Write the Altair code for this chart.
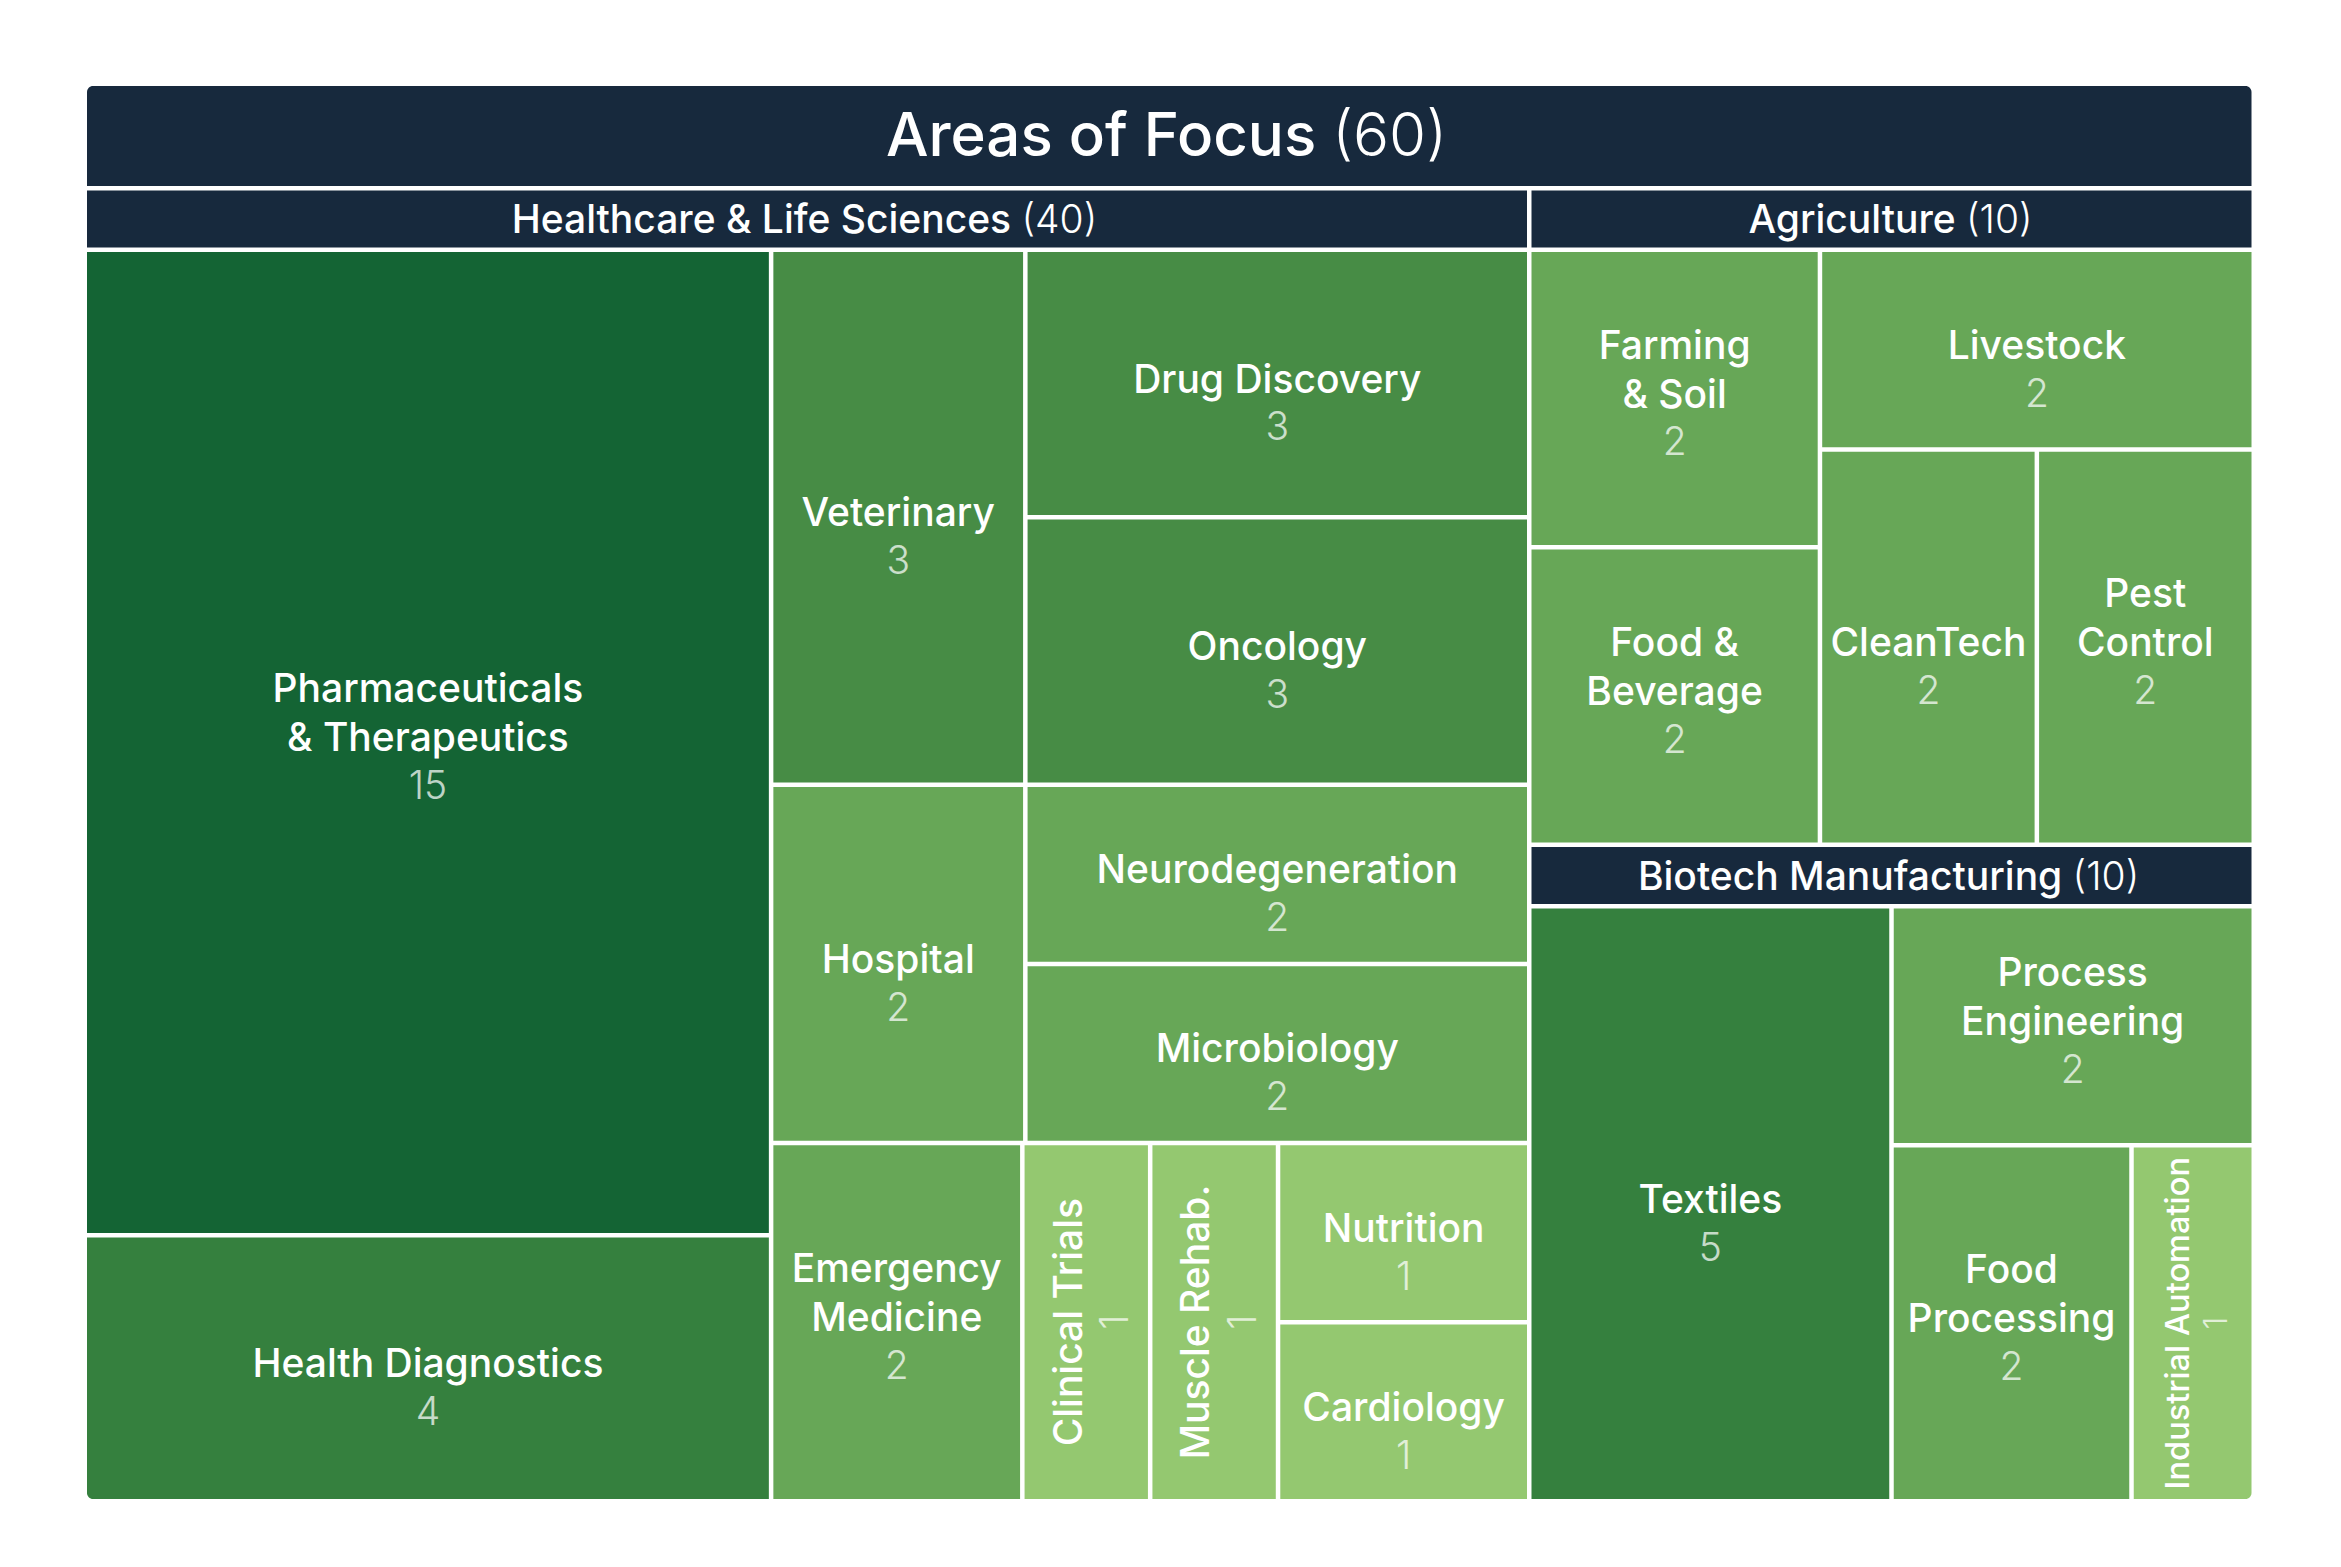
import altair as alt
import pandas as pd

# ---------------- data ----------------
TITLE = "Areas of Focus"
GROUPS = ["Healthcare & Life Sciences", "Agriculture", "Biotech Manufacturing"]

hc_labels = ["Pharmaceuticals\n& Therapeutics", "Health Diagnostics", "Veterinary",
             "Drug Discovery", "Oncology", "Hospital", "Neurodegeneration",
             "Microbiology", "Emergency\nMedicine", "Clinical Trials", "Muscle Rehab.",
             "Nutrition", "Cardiology"]
hc_values = [15, 4, 3, 3, 3, 2, 2, 2, 2, 1, 1, 1, 1]

ag_labels = ["Farming\n& Soil", "Food &\nBeverage", "Livestock", "CleanTech", "Pest\nControl"]
ag_values = [2, 2, 2, 2, 2]

bt_labels = ["Textiles", "Process\nEngineering", "Food\nProcessing", "Industrial Automation"]
bt_values = [5, 2, 2, 1]

# nesting of the tiles inside each group (h = side by side, v = stacked)
HC_TREE = ("h", [("v", [0, 1]),
                 ("v", [("h", [2, ("v", [3, 4])]),
                        ("h", [5, ("v", [6, 7])]),
                        ("h", [8, 9, 10, ("v", [11, 12])])])])
AG_TREE = ("h", [("v", [0, 1]), ("v", [2, ("h", [3, 4])])])
BT_TREE = ("h", [0, ("v", [1, ("h", [2, 3])])])

# ---------------- layout constants ----------------
W, H = 2320, 1540
FX0, FY0, FX1, FY1 = 79, 78, 2243.5, 1491
TITLE_H = 100
HDR_H = 57
GAP = 4.5
BASE = 39
LINE = 49
FONT = "Inter"
NAVY = "#17293d"

CW = {}
for ch, w in zip("ABCDEFGHIJKLMNOPQRSTUVWXYZ",
                 [.68, .64, .70, .72, .59, .57, .73, .74, .28, .5, .66, .54, .88, .74, .76, .64, .76, .64, .62, .62, .72, .68, .96, .66, .64, .6]):
    CW[ch] = w
for ch, w in zip("abcdefghijklmnopqrstuvwxyz",
                 [.54, .59, .54, .59, .56, .35, .59, .58, .24, .24, .52, .24, .87, .58, .57, .59, .59, .37, .5, .35, .58, .52, .77, .5, .52, .5]):
    CW[ch] = w
CW.update({" ": .26, "&": .68, "(": .33, ")": .33, ".": .27, "1": .42})


def est(s, fs, weight=500):
    w = sum(CW.get(c, 0.6) for c in s)
    return w * fs * (1.02 if weight >= 500 else 0.98)


def tval(t, vals):
    if isinstance(t, int):
        return vals[t]
    return sum(tval(k, vals) for k in t[1])


def place(t, vals, x0, y0, x1, y1, out):
    if isinstance(t, int):
        out[t] = (x0, y0, x1, y1)
        return
    d, kids = t
    tot = sum(tval(k, vals) for k in kids)
    span = (x1 - x0) if d == "h" else (y1 - y0)
    usable = span - GAP * (len(kids) - 1)
    pos = x0 if d == "h" else y0
    for k in kids:
        s = usable * tval(k, vals) / tot
        if d == "h":
            place(k, vals, pos, y0, pos + s, y1, out)
        else:
            place(k, vals, x0, pos, x1, pos + s, out)
        pos += s + GAP


rects = []
texts = []


def header(name, count, x0, y0, x1, y1, fs):
    cx, cy = (x0 + x1) / 2, (y0 + y1) / 2 + 2
    cnt = "(%d)" % count
    wn, ws, wc = est(name, fs), est(" ", fs), est(cnt, fs, 300)
    left = cx - (wn + ws + wc) / 2
    texts.append(dict(x=left + wn, y=cy, text=name, fs=fs, ang=0, kind="hname"))
    texts.append(dict(x=left + wn + ws, y=cy, text=cnt, fs=fs, ang=0, kind="hcount"))


def group(name, labels, vals, tree, x0, y0, x1, y1):
    rects.append(dict(x=x0, x2=x1, y=y0, y2=y0 + HDR_H, key="header", corner=""))
    header(name, sum(vals), x0, y0, x1, y0 + HDR_H, BASE)
    out = {}
    place(tree, vals, x0, y0 + HDR_H + GAP, x1, y1, out)
    for i, (a, b, c, d) in out.items():
        corner = ""
        if abs(d - FY1) < 1 and abs(a - FX0) < 1:
            corner = "bl"
        elif abs(d - FY1) < 1 and abs(c - FX1) < 1:
            corner = "br"
        rects.append(dict(x=a, x2=c, y=b, y2=d, key=str(vals[i]), corner=corner))
        lines = labels[i].split("\n")
        wmax = max(est(l, BASE) for l in lines)
        cw, ch = c - a, d - b
        cx, cy = (a + c) / 2, (b + d) / 2
        fs_h = min(BASE, BASE * (cw - 16) / wmax)
        if fs_h < 0.8 * BASE and ch > cw:
            fs = min(BASE, BASE * (ch - 24) / wmax)
            step = 1.22 * fs
            texts.append(dict(x=cx - 0.35 * step, y=cy, text=labels[i], fs=fs, ang=270, kind="name"))
            texts.append(dict(x=cx + 0.62 * step, y=cy, text=str(vals[i]), fs=fs, ang=270, kind="num"))
        else:
            fs = fs_h
            n = len(lines)
            last = cy - 3
            texts.append(dict(x=cx, y=last - (n - 1) * LINE, text=labels[i], fs=fs, ang=0, kind="name"))
            texts.append(dict(x=cx, y=last + 1.23 * fs, text=str(vals[i]), fs=fs, ang=0, kind="num"))


total = sum(hc_values) + sum(ag_values) + sum(bt_values)
# title bar
title_df = pd.DataFrame([dict(x=FX0, x2=FX1, y=FY0, y2=FY0 + TITLE_H)])
header(TITLE, total, FX0, FY0, FX1, FY0 + TITLE_H, 60)

cy0 = FY0 + TITLE_H + GAP
usable = (FX1 - FX0) - GAP
hc_w = usable * sum(hc_values) / total
group(GROUPS[0], hc_labels, hc_values, HC_TREE, FX0, cy0, FX0 + hc_w, FY1)
rx0 = FX0 + hc_w + GAP
right_tot = sum(ag_values) + sum(bt_values)
ag_h = ((FY1 - cy0) - GAP) * sum(ag_values) / right_tot
group(GROUPS[1], ag_labels, ag_values, AG_TREE, rx0, cy0, FX1, cy0 + ag_h)
group(GROUPS[2], bt_labels, bt_values, BT_TREE, rx0, cy0 + ag_h + GAP, FX1, FY1)

rect_df = pd.DataFrame(rects)
text_df = pd.DataFrame(texts)

# ---------------- chart ----------------
xs = alt.Scale(domain=[0, W], nice=False, zero=False)
ys = alt.Scale(domain=[0, H], nice=False, zero=False, reverse=True)
X = alt.X("x:Q", scale=xs, axis=None)
Y = alt.Y("y:Q", scale=ys, axis=None)

color = alt.Color("key:N", legend=None,
                  scale=alt.Scale(domain=["header", "15", "5", "4", "3", "2", "1"],
                                  range=[NAVY, "#146434", "#35803e", "#35803e", "#478c45", "#67a757", "#94c870"]))

def rect_layer(corner, **kw):
    return alt.Chart(rect_df).transform_filter(alt.datum.corner == corner).mark_rect(**kw).encode(
        x=X, x2="x2:Q", y=Y, y2="y2:Q", color=color)

title_rect = alt.Chart(title_df).mark_rect(color=NAVY, cornerRadiusTopLeft=6, cornerRadiusTopRight=6).encode(
    x=X, x2="x2:Q", y=Y, y2="y2:Q")

def text_layer(kind, **kw):
    return alt.Chart(text_df).transform_filter(alt.datum.kind == kind).mark_text(
        font=FONT, baseline="middle", lineBreak="\n", lineHeight=LINE, **kw).encode(
        x=X, y=Y, text="text:N",
        size=alt.Size("fs:Q", scale=None),
        angle=alt.Angle("ang:Q", scale=None))

chart = alt.layer(
    title_rect,
    rect_layer(""),
    rect_layer("bl", cornerRadiusBottomLeft=6),
    rect_layer("br", cornerRadiusBottomRight=6),
    text_layer("name", color="white", fontWeight=500, align="center"),
    text_layer("num", color="white", opacity=0.72, fontWeight=300, align="center"),
    text_layer("hname", color="white", fontWeight=500, align="right"),
    text_layer("hcount", color="white", fontWeight=300, align="left"),
).properties(width=W, height=H, padding=0, background="white").configure_view(stroke=None)

chart.save("out.html", embed_options={"renderer": "svg", "actions": False})
